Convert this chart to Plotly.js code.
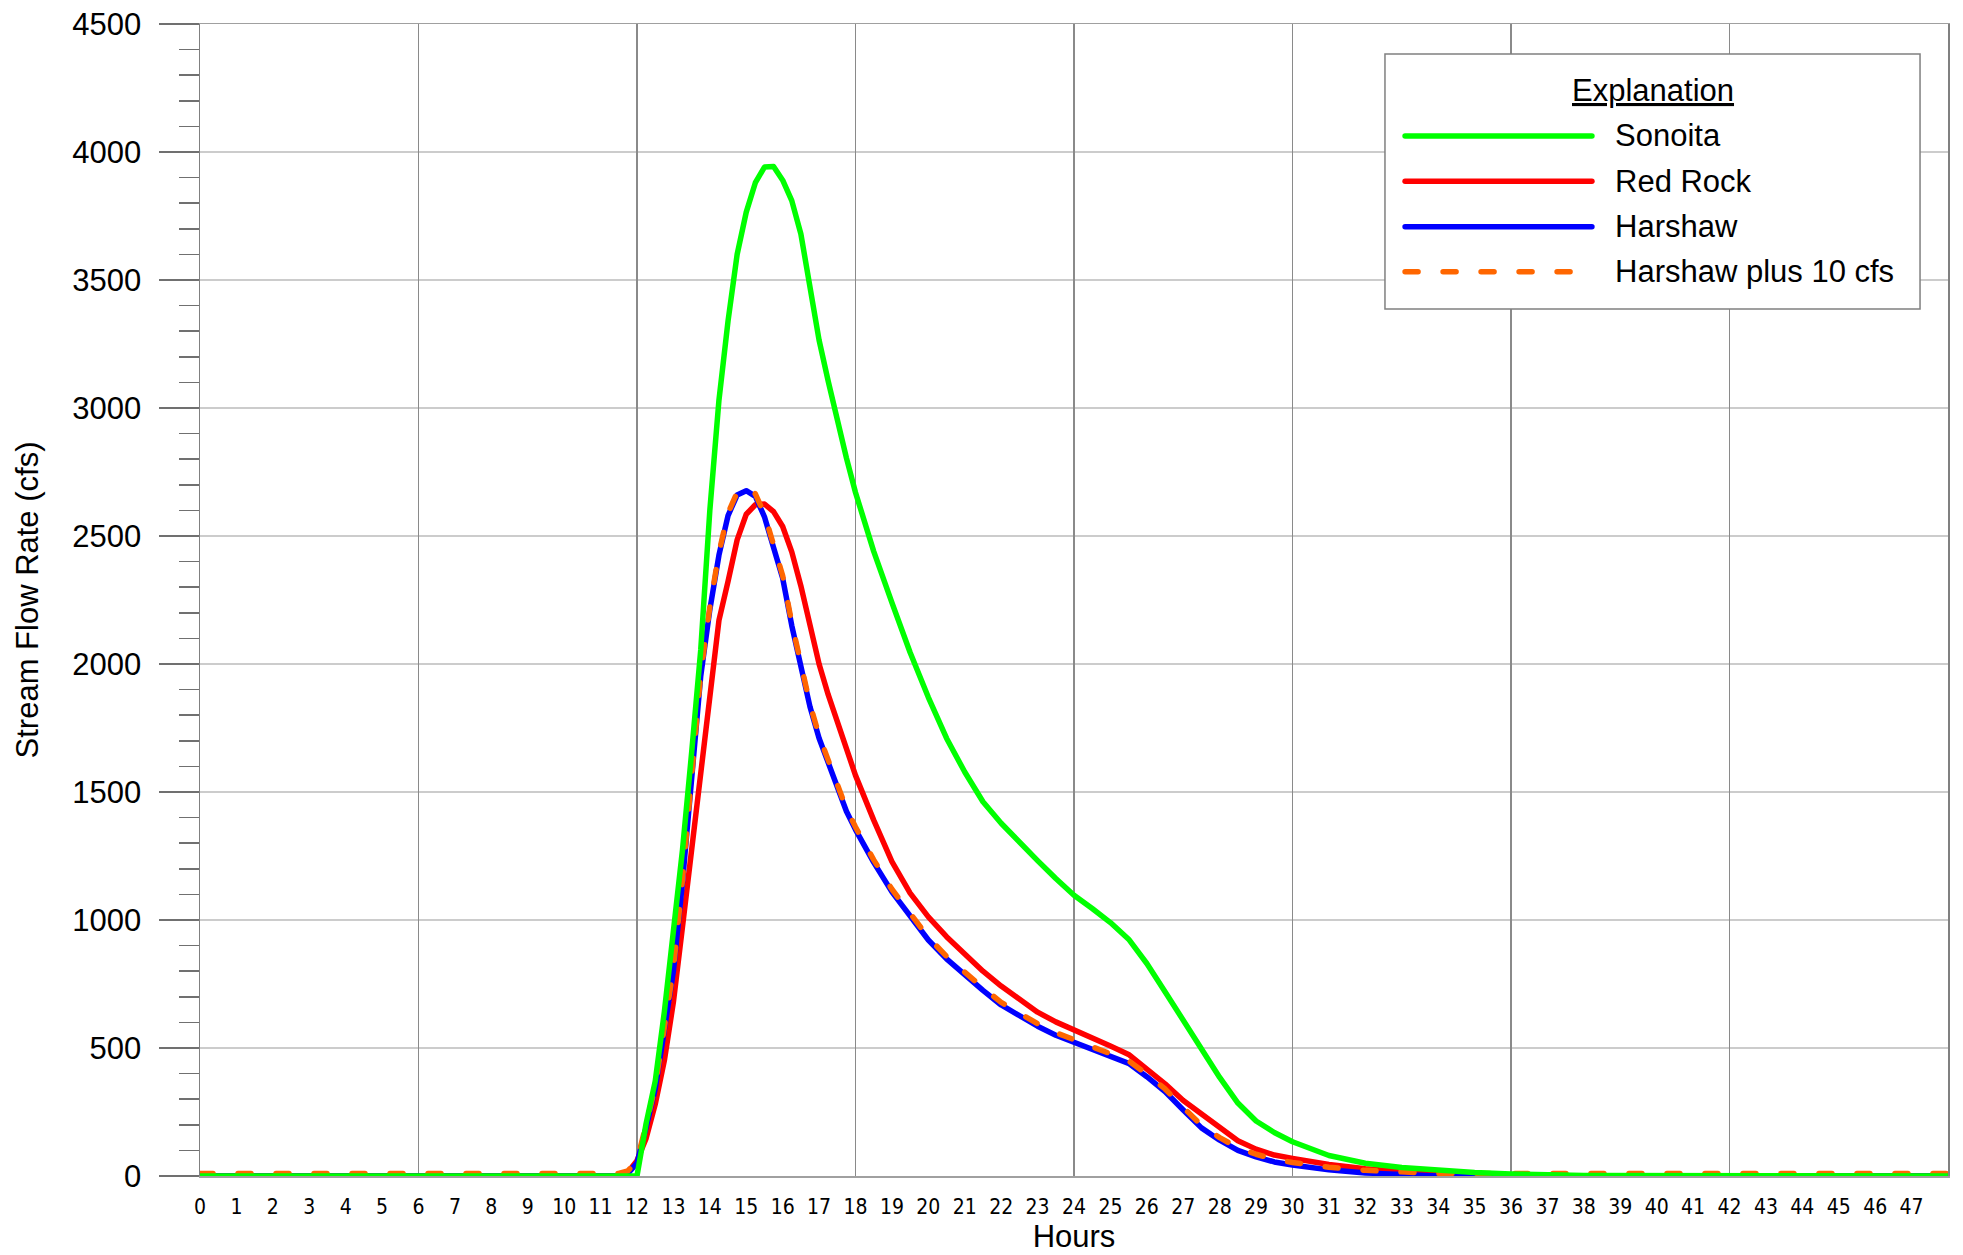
<!DOCTYPE html>
<html><head><meta charset="utf-8">
<script src="https://cdn.plot.ly/plotly-3.0.1.min.js"></script>
<style>
html,body{margin:0;padding:0;background:#fff;}
#chart{width:1963px;height:1255px;}
path.js-line{stroke-linecap:round !important;stroke-linejoin:round !important;}
.shapelayer path{stroke-linecap:round !important;}
</style></head><body><div id="chart"></div>
<script>
// Time (hours) shared by all series
const hours = [0, 11.5, 11.75, 12, 12.25, 12.5, 12.75, 13, 13.25, 13.5, 13.75, 14, 14.25, 14.5, 14.75, 15, 15.25, 15.5, 15.75, 16,
  16.25, 16.5, 16.75, 17, 17.25, 17.5, 17.75, 18, 18.5, 19, 19.5, 20, 20.5, 21, 21.5, 22, 22.5, 23, 23.5, 24,
  24.5, 25, 25.5, 26, 26.5, 27, 27.5, 28, 28.5, 29, 29.5, 30, 31, 32, 33, 34, 35, 36, 38, 48];

// Stream flow rate (cfs)
const sonoita = [0, 0, 0, 0, 205, 370, 640, 940, 1275, 1653, 2055, 2600, 3030, 3340, 3600, 3765, 3880, 3941, 3943, 3890,
  3810, 3680, 3460, 3265, 3105, 2950, 2805, 2670, 2440, 2240, 2045, 1870, 1710, 1578, 1462, 1378, 1302, 1232, 1162, 1097,
  1045, 990, 925, 830, 720, 610, 495, 385, 285, 215, 170, 134, 80, 50, 33, 22, 14, 8, 2, 0];

const redRock = [0, 0, 15, 60, 147, 280, 450, 680, 975, 1267, 1560, 1865, 2170, 2323, 2485, 2585, 2622, 2625, 2595, 2537,
  2438, 2305, 2146, 2000, 1880, 1770, 1660, 1565, 1390, 1228, 1105, 1012, 935, 865, 800, 742, 688, 640, 602, 572,
  540, 508, 475, 420, 360, 295, 243, 185, 138, 105, 82, 69, 45, 28, 17, 6, 2, 0, 0, 0];

const harshaw = [0, 0, 10, 50, 190, 340, 570, 800, 1150, 1562, 1953, 2212, 2425, 2580, 2660, 2677, 2655, 2575, 2460, 2335,
  2150, 1980, 1833, 1710, 1610, 1515, 1425, 1353, 1225, 1110, 1015, 922, 848, 785, 725, 668, 625, 585, 550, 522,
  495, 470, 440, 388, 330, 258, 188, 140, 100, 75, 55, 43, 24, 12, 4, 0, 0, 0, 0, 0];

const harshawPlus10 = [10, 10, 20, 60, 200, 350, 580, 810, 1160, 1572, 1963, 2222, 2435, 2590, 2670, 2687, 2665, 2585, 2470, 2345,
  2160, 1990, 1843, 1720, 1620, 1525, 1435, 1363, 1235, 1120, 1025, 932, 858, 795, 735, 678, 635, 595, 560, 532,
  505, 480, 450, 398, 340, 268, 198, 150, 110, 85, 65, 53, 34, 22, 14, 10, 10, 10, 10, 10];

const hourTicks = [0, 1, 2, 3, 4, 5, 6, 7, 8, 9, 10, 11, 12, 13, 14, 15, 16, 17, 18, 19, 20, 21, 22, 23,
  24, 25, 26, 27, 28, 29, 30, 31, 32, 33, 34, 35, 36, 37, 38, 39, 40, 41, 42, 43, 44, 45, 46, 47];

const seriesNames = ['Sonoita', 'Red Rock', 'Harshaw', 'Harshaw plus 10 cfs'];
const seriesColors = ['#00ff00', '#ff0000', '#0000ff', '#ff6600'];
const seriesDash = ['solid', 'solid', 'solid', '13px,25px'];
const legendTitle = 'Explanation';

const FONT = 'Liberation Sans, Arial, Helvetica, sans-serif';
const NARROW = 'DejaVu Sans Condensed, Liberation Sans Narrow, Arial Narrow, sans-serif';
const LW = 5.5;

const traces = [
  {x: hours, y: redRock, name: seriesNames[1], xaxis: 'x', yaxis: 'y', mode: 'lines',
   line: {color: seriesColors[1], width: LW, dash: seriesDash[1]}},
  {x: hours, y: harshaw, name: seriesNames[2], xaxis: 'x', yaxis: 'y', mode: 'lines',
   line: {color: seriesColors[2], width: LW, dash: seriesDash[2]}},
  {x: hours, y: harshawPlus10, name: seriesNames[3], xaxis: 'x', yaxis: 'y', mode: 'lines',
   line: {color: seriesColors[3], width: LW, dash: seriesDash[3]}},
  {x: hours, y: sonoita, name: seriesNames[0], xaxis: 'x2', yaxis: 'y', mode: 'lines',
   line: {color: seriesColors[0], width: LW, dash: seriesDash[0]}}
];

// Custom "Explanation" legend box (paper coordinates)
const box = {x0: 0.6779, x1: 0.9840, y0: 0.7526, y1: 0.9740};
const entryY = [0.9028, 0.8635, 0.8241, 0.7850];
const sampleX = [0.6894, 0.7963];
const textX = 0.8084;

const shapes = [{type: 'rect', xref: 'paper', yref: 'paper', x0: box.x0, x1: box.x1, y0: box.y0, y1: box.y1,
  line: {color: '#808080', width: 1.5}, fillcolor: '#ffffff', layer: 'above'}];
const annotations = [{xref: 'paper', yref: 'paper', x: 0.8312, y: 0.9427, xanchor: 'center', yanchor: 'middle',
  text: '<u>' + legendTitle + '</u>', showarrow: false, font: {family: FONT, size: 31, color: '#000'}}];
seriesNames.forEach((nm, i) => {
  shapes.push({type: 'line', xref: 'paper', yref: 'paper', x0: sampleX[0], x1: sampleX[1], y0: entryY[i], y1: entryY[i],
    line: {color: seriesColors[i], width: LW, dash: seriesDash[i]}, layer: 'above'});
  annotations.push({xref: 'paper', yref: 'paper', x: textX, y: entryY[i], xanchor: 'left', yanchor: 'middle',
    text: nm, showarrow: false, font: {family: FONT, size: 31, color: '#000'}});
});

const layout = {
  width: 1963, height: 1255,
  margin: {l: 200, r: 15, t: 24, b: 79, pad: 0},
  paper_bgcolor: '#ffffff', plot_bgcolor: '#ffffff',
  showlegend: false,
  font: {family: FONT, color: '#000'},
  xaxis: {
    range: [0, 48], tickmode: 'array', tickvals: hourTicks, ticktext: hourTicks.map(String),
    showgrid: false, zeroline: false, ticks: '', ticklabelstandoff: 11,
    tickfont: {family: NARROW, size: 21, color: '#000'},
    showline: true, linecolor: '#a0a0a0', linewidth: 1.5, mirror: true,
    title: {text: 'Hours', font: {family: FONT, size: 31, color: '#000'}, standoff: 7}
  },
  xaxis2: {
    range: [0, 48], overlaying: 'x', anchor: 'y', tick0: 0, dtick: 6,
    showgrid: true, gridcolor: '#8a8a8a', gridwidth: 1.2,
    showticklabels: false, ticks: '', zeroline: false, showline: false
  },
  yaxis: {
    range: [0, 4500], tick0: 0, dtick: 500,
    ticks: 'outside', ticklen: 40, tickwidth: 1.5, tickcolor: '#707070',
    minor: {dtick: 100, ticks: 'outside', ticklen: 20, tickwidth: 1.5, tickcolor: '#707070', showgrid: false},
    showgrid: true, gridcolor: '#cccccc', gridwidth: 1.5, zeroline: false,
    showline: true, linecolor: '#808080', linewidth: 1.5, mirror: true,
    ticklabelstandoff: 11,
    tickfont: {family: FONT, size: 31, color: '#000'},
    title: {text: 'Stream Flow Rate (cfs)', font: {family: FONT, size: 31, color: '#000'}, standoff: 24}
  },
  shapes: shapes,
  annotations: annotations
};

Plotly.newPlot('chart', traces, layout, {displayModeBar: false, staticPlot: true});
</script></body></html>
